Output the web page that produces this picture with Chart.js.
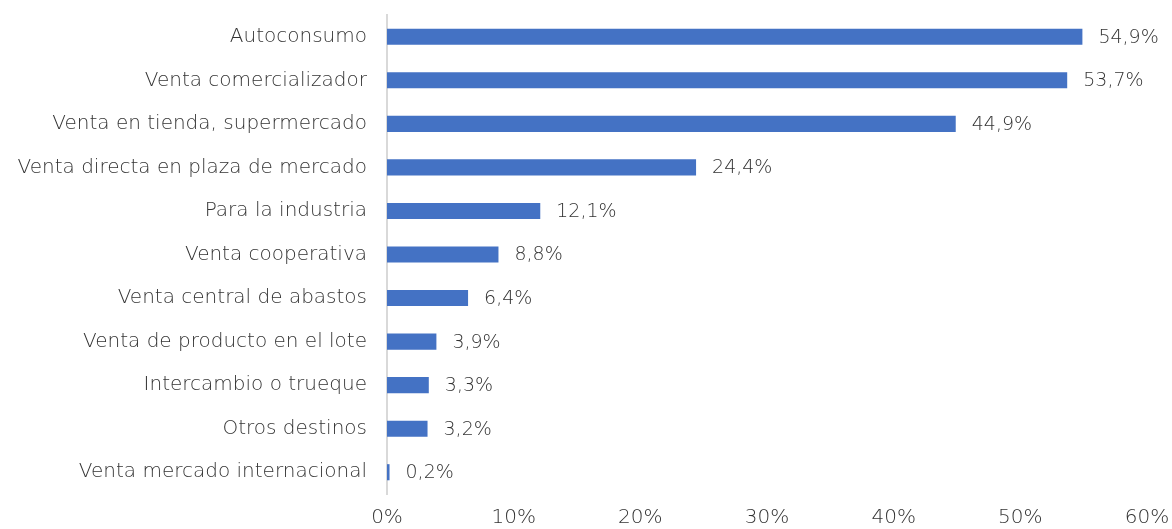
<!DOCTYPE html>
<html>
<head>
<meta charset="utf-8">
<script src="https://cdn.jsdelivr.net/npm/chart.js@4"></script>
<style>
  html, body { margin: 0; padding: 0; background: #fff; }
  #wrap { width: 1172px; height: 529px; position: relative; }
</style>
</head>
<body>
<div id="wrap"><canvas id="chart"></canvas></div>
<script>
const categories = [
  "Autoconsumo",
  "Venta comercializador",
  "Venta en tienda, supermercado",
  "Venta directa en plaza de mercado",
  "Para la industria",
  "Venta cooperativa",
  "Venta central de abastos",
  "Venta de producto en el lote",
  "Intercambio o trueque",
  "Otros destinos",
  "Venta mercado internacional"
];
const values = [54.9, 53.7, 44.9, 24.4, 12.1, 8.8, 6.4, 3.9, 3.3, 3.2, 0.2];
const tickLabels = ["0%", "10%", "20%", "30%", "40%", "50%", "60%"];

const FONT = "'DejaVu Sans', sans-serif";
const TEXT = "#333333";
const fmt = v => v.toFixed(1).replace(".", ",") + "%";

// etiquetas de valor a la derecha de cada barra
const valueLabels = {
  id: "valueLabels",
  afterDatasetsDraw(chart) {
    const ctx = chart.ctx;
    const meta = chart.getDatasetMeta(0);
    ctx.save();
    ctx.font = "200 19px " + FONT;
    ctx.fillStyle = TEXT;
    ctx.textAlign = "left";
    ctx.textBaseline = "middle";
    meta.data.forEach((bar, i) => {
      ctx.fillText(fmt(values[i]), bar.x + 16, bar.y + 1);
    });
    ctx.restore();
  }
};

new Chart(document.getElementById("chart"), {
  type: "bar",
  data: {
    labels: categories,
    datasets: [{
      data: values,
      backgroundColor: "#4472C4",
      barPercentage: 0.37,
      categoryPercentage: 1
    }]
  },
  options: {
    indexAxis: "y",
    responsive: true,
    maintainAspectRatio: false,
    animation: false,
    layout: { padding: { top: 15, right: 25, bottom: 0, left: 0 } },
    plugins: { legend: { display: false }, tooltip: { enabled: false } },
    scales: {
      x: {
        min: 0, max: 60,
        // separación vertical en tickLength para no inflar el margen derecho
        grid: { display: false, drawTicks: true, tickLength: 12 },
        border: { display: false },
        afterFit: s => { s.height = 35; },
        ticks: {
          stepSize: 10,
          padding: 0,
          color: TEXT,
          font: { family: FONT, size: 20, weight: 200 },
          callback: (v, i) => tickLabels[i]
        }
      },
      y: {
        // la separación texto-eje va en tickLength para no inflar el margen superior
        grid: { display: false, drawTicks: true, tickLength: 20 },
        border: { display: true, color: "#d9d9d9", width: 2 },
        afterFit: s => { s.width = 387; },
        ticks: {
          padding: 0,
          color: TEXT,
          font: { family: FONT, size: 20, weight: 200 }
        }
      }
    }
  },
  plugins: [valueLabels]
});
</script>
</body>
</html>
